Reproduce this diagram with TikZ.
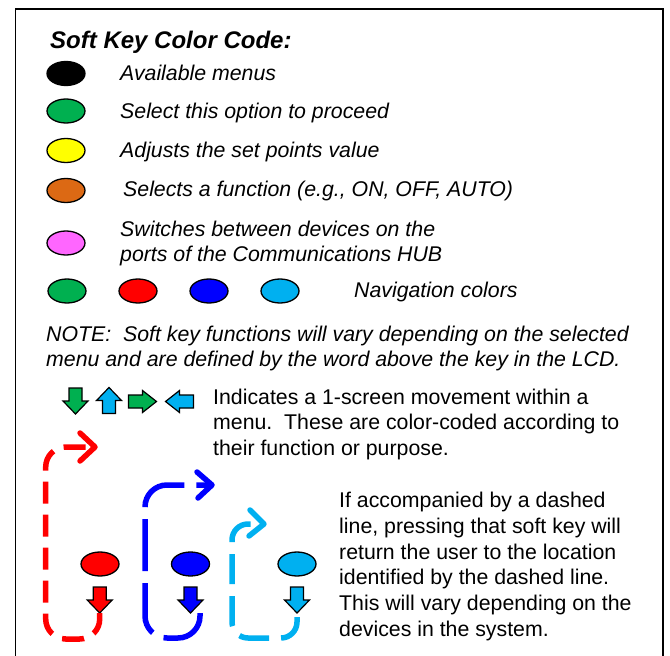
\documentclass[tikz,border=0pt]{standalone}
\usepackage{fontspec}
\setmainfont{Liberation Sans}
\usetikzlibrary{shapes.geometric}
\definecolor{kgreen}{RGB}{0,176,80}
\definecolor{kyellow}{RGB}{255,255,0}
\definecolor{korange}{RGB}{220,105,20}
\definecolor{kpink}{RGB}{255,102,255}
\definecolor{kred}{RGB}{255,0,0}
\definecolor{kblue}{RGB}{0,0,255}
\definecolor{kcyan}{RGB}{0,176,240}
\begin{document}
\begin{tikzpicture}[x=1pt,y=-1pt,
  key/.style={ellipse,draw=black,line width=1.3pt,minimum width=38pt,minimum height=24pt,inner sep=0pt},
  body/.style={anchor=base west,inner sep=0pt,font=\fontsize{21.3}{25.8}\selectfont},
  ibody/.style={anchor=base west,inner sep=0pt,font=\fontsize{21.3}{25.8}\selectfont\itshape},
  titletext/.style={anchor=base west,inner sep=0pt,font=\fontsize{24}{28}\selectfont\bfseries\itshape},
  retpath/.style={line width=5.5pt,rounded corners=#1},
  chevron/.style={line width=5.5pt,line cap=round,line join=round},
  pics/vkey/.style={code={
    \path[draw=black,line width=1.2pt,pic actions]
      (-6.5,-13) -- (6.5,-13) -- (6.5,0) -- (12.5,0) -- (0,13) -- (-12.5,0) -- (-6.5,0) -- cycle;
    \coordinate (-tip) at (0,13);
  }},
  pics/hkey/.style={code={
    \path[draw=black,line width=1.2pt,pic actions]
      (-14,-6.5) -- (0,-6.5) -- (0,-11) -- (14,0) -- (0,11) -- (0,6.5) -- (-14,6.5) -- cycle;
  }}
]
\useasboundingbox (0,0) rectangle (670,656);
% frame
\draw[line width=1.6pt] (15.5,680) -- (15.5,9) -- (663,9) -- (663,680);

\node[titletext] (title) at (50,48) {Soft Key Color Code:};

\node[key,fill=black]   (kblack)  at (66,73.5) {};
\node[ibody] (tblack) at (120,80) {Available menus};
\node[key,fill=kgreen]  (kgreen1) at (66,111) {};
\node[ibody] (tgreen) at (120,118.7) {Select this option to proceed};
\node[key,fill=kyellow] (kyellow1) at (66,150.5) {};
\node[ibody] (tyellow) at (120,157) {Adjusts the set points value};
\node[key,fill=korange] (korange1) at (66,190.5) {};
\node[ibody] (torange) at (123,196.5) {Selects a function (e.g., ON, OFF, AUTO)};
\node[key,fill=kpink]   (kpink1)  at (66,243) {};
\node[ibody] (tpink1) at (120,236.5) {Switches between devices on the};
\node[ibody] (tpink2) at (120,261.5) {ports of the Communications HUB};

\node[key,fill=kgreen] (ngreen) at (67,291) {};
\node[key,fill=kred]   (nred)   at (138,291) {};
\node[key,fill=kblue]  (nblue)  at (209,291) {};
\node[key,fill=kcyan]  (ncyan)  at (280,291) {};
\node[ibody] (tnav) at (354,297) {Navigation colors};

\node[ibody] (note1) at (46,341.7) {NOTE:\ \ Soft key functions will vary depending on the selected};
\node[ibody] (note2) at (46,366.7) {menu and are defined by the word above the key in the LCD.};

\pic[fill=kgreen] (adown) at (75.5,401) {vkey};
\pic[fill=kcyan,yscale=-1] (aup) at (109,400.5) {vkey};
\pic[fill=kgreen] (aright) at (142.5,401.5) {hkey};
\pic[fill=kcyan,xscale=-1] (aleft) at (179.5,401.5) {hkey};

\node[body] (ind1) at (213,404) {Indicates a 1-screen movement within a};
\node[body] (ind2) at (213,429.5) {menu.\ \ These are color-coded according to};
\node[body] (ind3) at (213,455) {their function or purpose.};

\node[key,fill=kred]  (bred)  at (100,564) {};
\node[key,fill=kblue] (bblue) at (190.5,564) {};
\node[key,fill=kcyan] (bcyan) at (297,564) {};
\pic[fill=kred]  (rdn) at (99.7,600) {vkey};
\pic[fill=kblue] (bdn) at (190.5,600) {vkey};
\pic[fill=kcyan] (cdn) at (297,600) {vkey};

\coordinate (rend) at (95,447);
\coordinate (bend) at (212,485);
\coordinate (cend) at (264,524);

\draw[retpath=20pt,kred,dash pattern=on 22pt off 11pt]
  (rdn-tip) -- (99.7,639) -- (45.7,639) -- (45.7,447) -- (rend);
\draw[chevron,kred] (rend) ++(-15,-14) -- (rend) -- ++(-15,14);
\draw[retpath=22pt,kblue,dash pattern=on 52pt off 12pt]
  ([xshift=9.5pt]bdn-tip) -- (200,638) -- (145,638) -- (145,485) -- (bend);
\draw[chevron,kblue] (bend) ++(-15,-13) -- (bend) -- ++(-14,13);
\draw[retpath=16pt,kcyan,dash pattern=on 30pt off 12pt]
  ([yshift=-4pt]cdn-tip) -- (297,638) -- (232,638) -- (232,524) -- (cend);
\draw[chevron,kcyan] (cend) ++(-14,-14) -- (cend) -- ++(-15,12);

\node[body] (ret1) at (339,507) {If accompanied by a dashed};
\node[body] (ret2) at (339,533) {line, pressing that soft key will};
\node[body] (ret3) at (339,559) {return the user to the location};
\node[body] (ret4) at (339,584.5) {identified by the dashed line.};
\node[body] (ret5) at (339,610) {This will vary depending on the};
\node[body] (ret6) at (339,636) {devices in the system.};
\end{tikzpicture}
\end{document}
